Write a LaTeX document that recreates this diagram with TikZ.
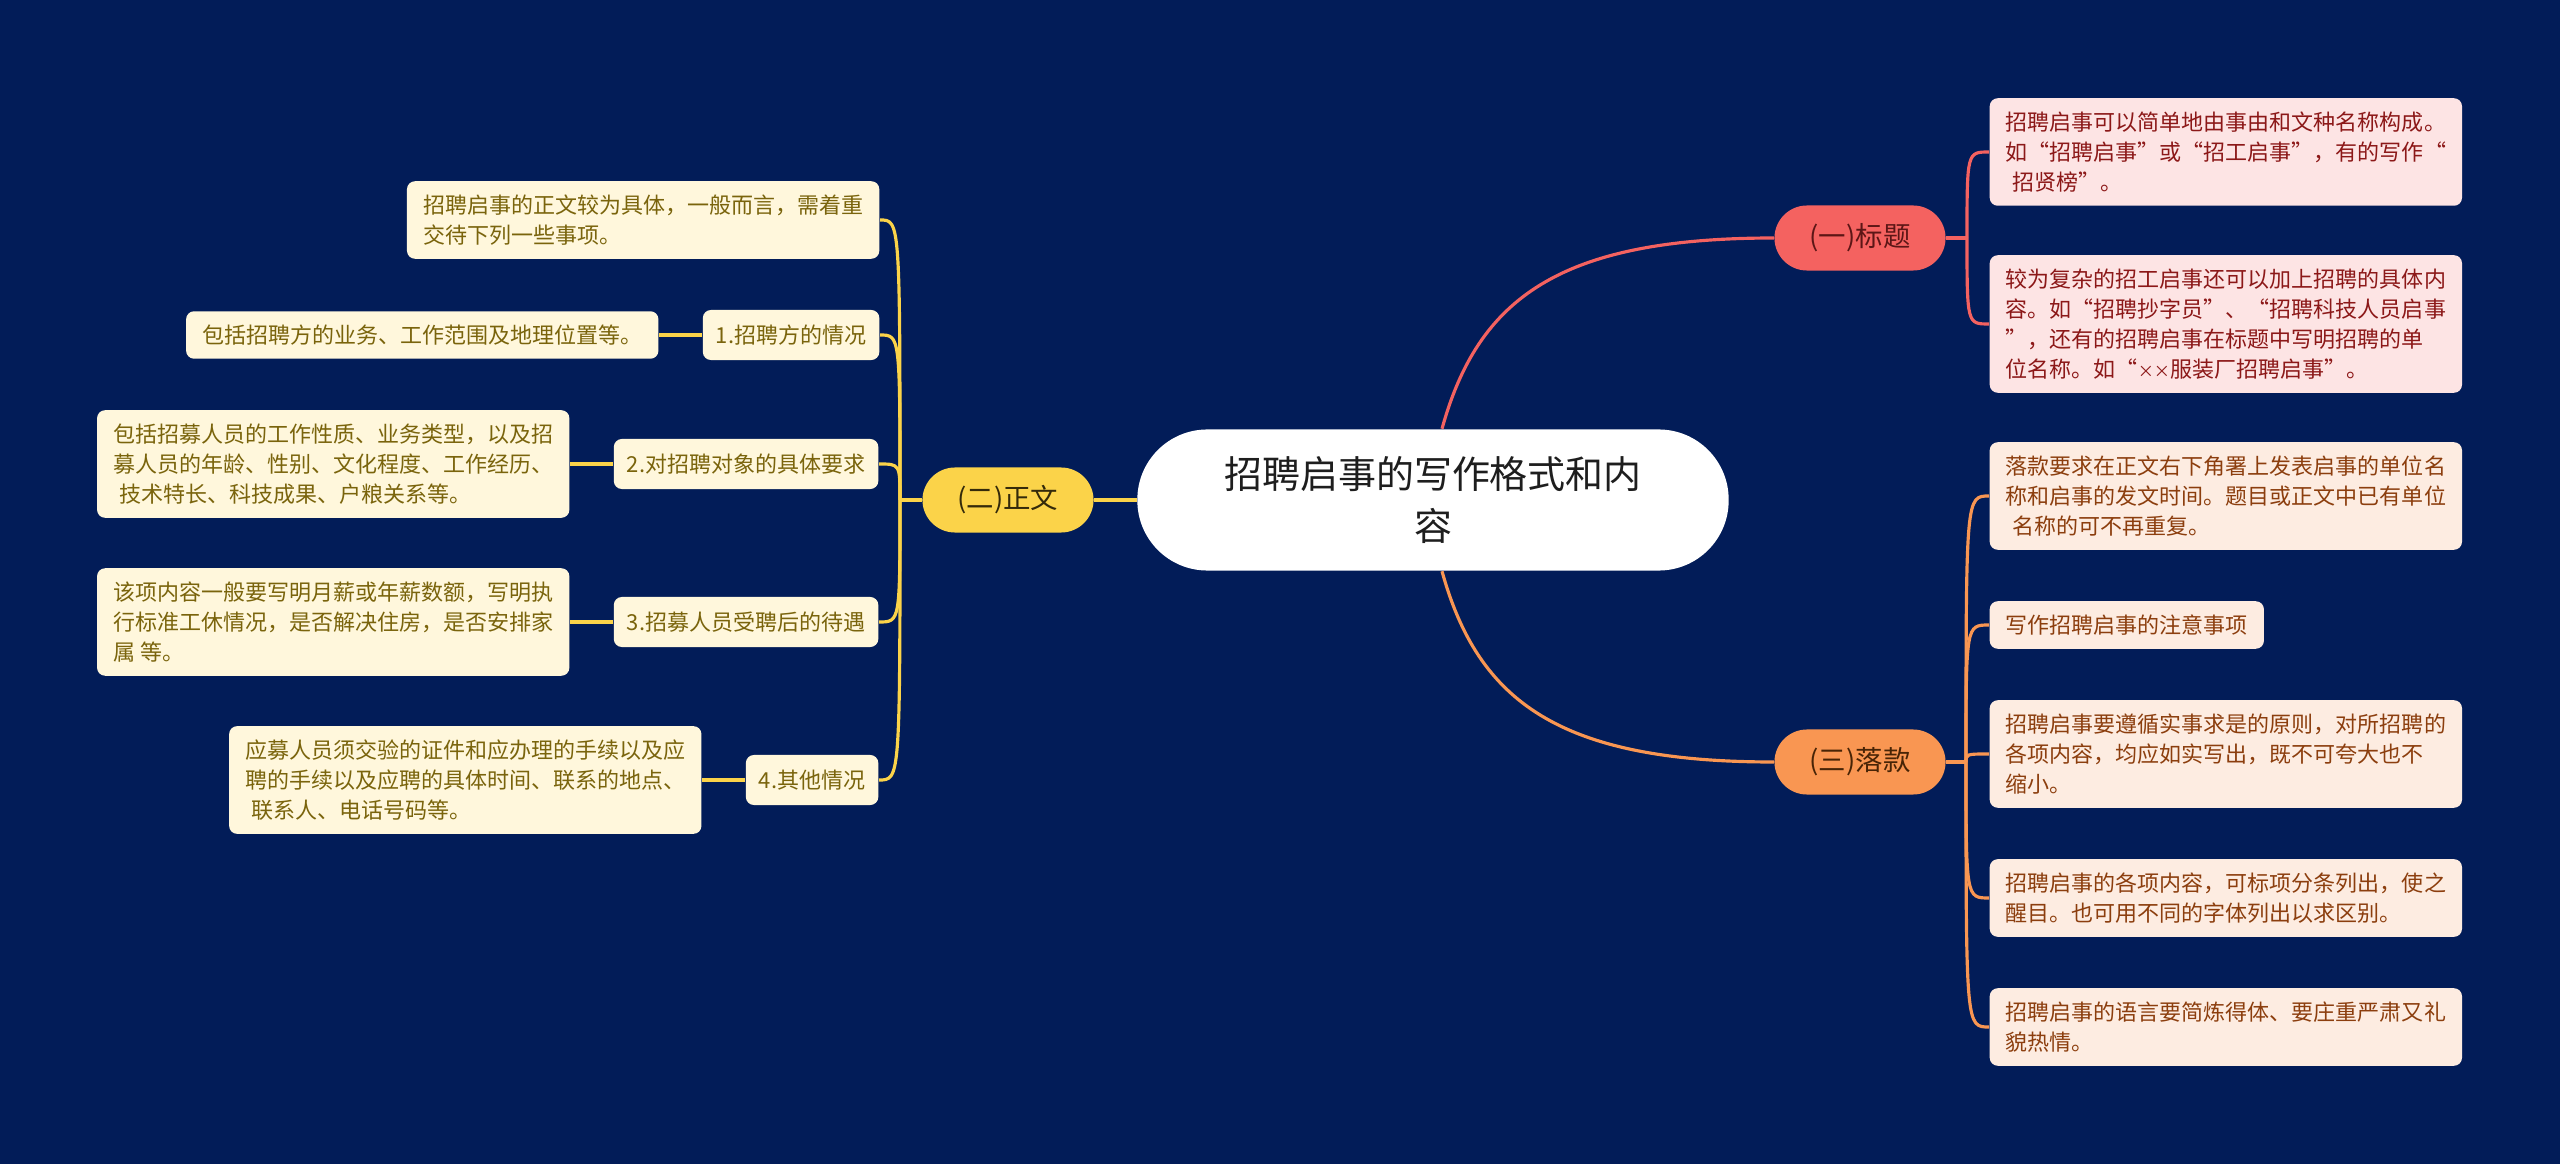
\documentclass[tikz,border=0pt]{standalone}
\usepackage{fontspec}
\setmainfont{Noto Sans CJK SC}
\usepackage{tikz}
\usetikzlibrary{positioning}
\definecolor{BgNavy}{RGB}{2,28,88}
\definecolor{RootInk}{RGB}{30,30,30}
\definecolor{TitleCoral}{RGB}{244,98,96}
\definecolor{TitleInk}{RGB}{92,22,22}
\definecolor{TitlePink}{RGB}{253,228,228}
\definecolor{TitleText}{RGB}{140,24,24}
\definecolor{BodyGold}{RGB}{251,211,73}
\definecolor{BodyInk}{RGB}{52,42,10}
\definecolor{BodyCream}{RGB}{255,247,220}
\definecolor{BodyText}{RGB}{122,100,12}
\definecolor{FootOrange}{RGB}{249,150,82}
\definecolor{FootInk}{RGB}{72,36,6}
\definecolor{FootPeach}{RGB}{253,236,225}
\definecolor{FootText}{RGB}{140,62,14}

\begin{document}
\begin{tikzpicture}[x=0.01cm, y=-0.01cm,
		root/.style={fill=white, text=RootInk, rounded corners=0.7cm, minimum width=5.91cm, minimum height=1.41cm, align=center, font=\fontsize{10.8}{14.8}\selectfont},
		branch/.style={rounded corners=0.325cm, minimum width=1.71cm, minimum height=0.65cm, inner sep=0pt, font=\fontsize{7.8}{9}\selectfont},
		leaf/.style={rounded corners=0.08cm, inner xsep=0.16cm, inner ysep=0.135cm, align=left, font=\fontsize{6.26}{8.54}\selectfont},
		tleaf/.style={leaf, fill=TitlePink, text=TitleText},
		fleaf/.style={leaf, fill=FootPeach, text=FootText},
		zleaf/.style={leaf, fill=BodyCream, text=BodyText},
		zsub/.style={zleaf, inner xsep=0.13cm, minimum height=0.5cm},
		titleline/.style={TitleCoral, line width=0.9pt},
		footline/.style={FootOrange, line width=0.9pt},
		bodyline/.style={BodyGold, line width=0.9pt}]
	\fill[BgNavy] (0,0) rectangle (2560,1164);
	\useasboundingbox (0,0) rectangle (2560,1164);

	\node[root] (root) at (1433,500) {招聘启事的写作格式和内\\容};
	\node[branch, fill=TitleCoral, text=TitleInk] (bt) at (1860,238) {(一)标题};
	\node[branch, fill=BodyGold, text=BodyInk] (zw) at (1008,500) {(二)正文};
	\node[branch, fill=FootOrange, text=FootInk] (lk) at (1860,762) {(三)落款};

	\node[tleaf, anchor=west] (t1) at (1989,152) {招聘启事可以简单地由事由和文种名称构成。\\如“招聘启事”或“招工启事”，有的写作“\\\hspace*{0.3em}招贤榜”。};
	\node[tleaf, anchor=west] (t2) at (1989,324) {较为复杂的招工启事还可以加上招聘的具体内\\容。如“招聘抄字员”、“招聘科技人员启事\\”，还有的招聘启事在标题中写明招聘的单\\位名称。如“{\fontsize{4.6}{8.54}\selectfont ××}服装厂招聘启事”。};

	\node[fleaf, anchor=west] (f1) at (1989,496) {落款要求在正文右下角署上发表启事的单位名\\称和启事的发文时间。题目或正文中已有单位\\\hspace*{0.3em}名称的可不再重复。};
	\node[fleaf, anchor=west] (f2) at (1989,625) {写作招聘启事的注意事项};
	\node[fleaf, anchor=west] (f3) at (1989,754) {招聘启事要遵循实事求是的原则，对所招聘的\\各项内容，均应如实写出，既不可夸大也不\\缩小。};
	\node[fleaf, anchor=west] (f4) at (1989,898) {招聘启事的各项内容，可标项分条列出，使之\\醒目。也可用不同的字体列出以求区别。};
	\node[fleaf, anchor=west] (f5) at (1989,1027) {招聘启事的语言要简炼得体、要庄重严肃又礼\\貌热情。};

	\node[zleaf, anchor=east] (p0) at (880,220) {招聘启事的正文较为具体，一般而言，需着重\\交待下列一些事项。};
	\node[zsub, anchor=east] (s1) at (880,335) {1.招聘方的情况};
	\node[zleaf, left=0.43cm of s1] (s1l) {包括招聘方的业务、工作范围及地理位置等。};
	\node[zsub, anchor=east] (s2) at (879,464) {2.对招聘对象的具体要求};
	\node[zleaf, left=0.43cm of s2] (s2l) {包括招募人员的工作性质、业务类型，以及招\\募人员的年龄、性别、文化程度、工作经历、\\\hspace*{0.3em}技术特长、科技成果、户粮关系等。};
	\node[zsub, anchor=east] (s3) at (879,622) {3.招募人员受聘后的待遇};
	\node[zleaf, left=0.43cm of s3] (s3l) {该项内容一般要写明月薪或年薪数额，写明执\\行标准工休情况，是否解决住房，是否安排家\\属\ 等。};
	\node[zsub, anchor=east] (s4) at (879,780) {4.其他情况};
	\node[zleaf, left=0.43cm of s4] (s4l) {应募人员须交验的证件和应办理的手续以及应\\聘的手续以及应聘的具体时间、联系的地点、\\\hspace*{0.3em}联系人、电话号码等。};

	\draw[titleline] ([xshift=0.09cm]root.north) .. controls +(36,-130) and +(-215,0) .. (bt.west);
	\draw[footline] ([xshift=0.09cm]root.south) .. controls +(36,130) and +(-215,0) .. (lk.west);
	\draw[bodyline] (root.west) -- (zw.east);

	\coordinate (btj) at (1967,238);
	\draw[titleline] (bt.east) -- (btj);
	\foreach \n in {t1,t2}
		\draw[titleline] (btj) .. controls (btj |- \n.west) .. (\n.west);

	\coordinate (lkj) at (1966,762);
	\draw[footline] (lk.east) -- (lkj);
	\foreach \n in {f1,f2,f3,f4,f5}
		\draw[footline] (lkj) .. controls (lkj |- \n.west) .. (\n.west);

	\coordinate (zwj) at (900,500);
	\draw[bodyline] (zw.west) -- (zwj);
	\foreach \n in {p0,s1,s2,s3,s4}
		\draw[bodyline] (zwj) .. controls (zwj |- \n.east) .. (\n.east);
	\foreach \n in {s1,s2,s3,s4}
		\draw[bodyline] (\n.west) -- (\n l.east);
\end{tikzpicture}
\end{document}
